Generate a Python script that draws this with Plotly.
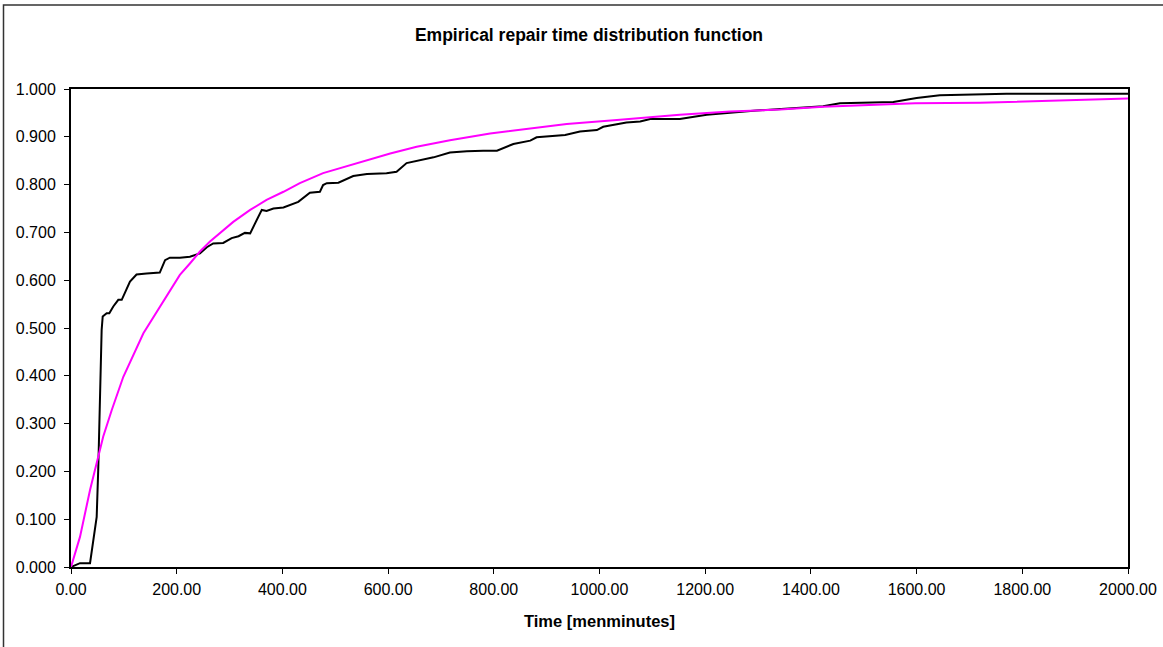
import plotly.graph_objects as go

# Empirical distribution (black)
emp_x = [0, 17, 36, 42, 48.6, 51.7, 54.9, 58, 60, 67.5, 72.5, 80, 89.5, 96, 111.6, 124, 143, 168,
         178, 187, 206, 225, 244, 257, 269, 288, 304, 317, 329, 339, 361, 370, 383, 402, 430, 452,
         471, 477, 484, 506, 534, 560, 597, 616, 635, 654, 686, 717, 749, 780, 806, 837, 869, 881,
         925, 935, 963, 995, 1007, 1051, 1077, 1096, 1152, 1203, 1297, 1423, 1455, 1556, 1600,
         1644, 1770, 1858, 1947, 2000]
emp_y = [0.000, 0.008, 0.008, 0.050, 0.105, 0.210, 0.385, 0.496, 0.524, 0.531, 0.531, 0.545, 0.559,
         0.559, 0.597, 0.612, 0.614, 0.616, 0.642, 0.647, 0.647, 0.649, 0.656, 0.669, 0.677, 0.678,
         0.688, 0.692, 0.699, 0.698, 0.747, 0.745, 0.750, 0.752, 0.764, 0.783, 0.785, 0.799, 0.803,
         0.804, 0.818, 0.822, 0.824, 0.827, 0.845, 0.850, 0.857, 0.867, 0.870, 0.871, 0.871, 0.885,
         0.892, 0.899, 0.902, 0.904, 0.911, 0.914, 0.921, 0.930, 0.932, 0.937, 0.937, 0.946, 0.955,
         0.964, 0.970, 0.973, 0.981, 0.987, 0.990, 0.990, 0.991, 0.990]

# Fitted distribution (magenta)
fit_x = [0, 17, 36, 48.6, 61, 77, 99, 137, 168, 206, 225, 244, 263, 282, 307, 339, 370, 402, 433,
         477, 528, 604, 654, 717, 793, 875, 938, 1033, 1077, 1152, 1247, 1342, 1423, 1518, 1569,
         1597, 1720, 1858, 1915, 2000]
fit_y = [0.000, 0.063, 0.161, 0.218, 0.273, 0.328, 0.398, 0.489, 0.545, 0.611, 0.635, 0.660, 0.681,
         0.698, 0.722, 0.747, 0.768, 0.785, 0.803, 0.824, 0.841, 0.865, 0.879, 0.893, 0.907, 0.918,
         0.927, 0.935, 0.939, 0.946, 0.953, 0.957, 0.963, 0.967, 0.968, 0.970, 0.971, 0.975, 0.978,
         0.980]

x_ticks = [0, 200, 400, 600, 800, 1000, 1200, 1400, 1600, 1800, 2000]
y_ticks = [0, 0.1, 0.2, 0.3, 0.4, 0.5, 0.6, 0.7, 0.8, 0.9, 1.0]

W, H = 1163, 647
L, R, T, B = 71, 35, 89, 80

fig = go.Figure()
fig.add_trace(go.Scatter(x=emp_x, y=emp_y, mode="lines",
                         line=dict(color="black", width=2), showlegend=False))
fig.add_trace(go.Scatter(x=fit_x, y=fit_y, mode="lines",
                         line=dict(color="#FF00FF", width=2), showlegend=False))

font = "Liberation Sans, Arial, sans-serif"
fig.update_layout(
    width=W, height=H,
    margin=dict(l=L, r=R, t=T, b=B, autoexpand=False),
    paper_bgcolor="white", plot_bgcolor="white",
    font=dict(family=font, size=16, color="black"),
    title=dict(text="<b>Empirical repair time distribution function</b>",
               x=589 / W, xref="container", xanchor="center",
               y=1 - 35 / H, yref="container", yanchor="middle",
               font=dict(family=font, size=17.5, color="black"),
               automargin=False),
    xaxis=dict(range=[0, 2000], tickvals=x_ticks, tickformat=".2f",
               showgrid=False, zeroline=False, automargin=False,
               showline=True, linecolor="black", linewidth=2, mirror=True,
               ticks="outside", ticklen=5, tickcolor="black", tickwidth=1,
               tickfont=dict(size=16), ticklabelstandoff=2,
               title=dict(text="<b>Time [menminutes]</b>", font=dict(size=16.5), standoff=18)),
    yaxis=dict(range=[0, 1], tickvals=y_ticks, tickformat=".3f",
               showgrid=False, zeroline=False, automargin=False,
               showline=True, linecolor="black", linewidth=2, mirror=True,
               ticks="outside", ticklen=5, tickcolor="black", tickwidth=1,
               tickfont=dict(size=16), ticklabelstandoff=5),
)

pw = W - L - R
ph = H - T - B
def px_x(p):
    return (p - L) / pw
def px_y(p):
    return (H - B - p) / ph

fig.add_shape(type="rect", xref="paper", yref="paper",
              x0=px_x(3.5), x1=px_x(W + 2), y0=px_y(H + 2), y1=px_y(5),
              line=dict(color="#333333", width=1.5), fillcolor="rgba(0,0,0,0)", layer="below")

fig.write_html("out.html")
